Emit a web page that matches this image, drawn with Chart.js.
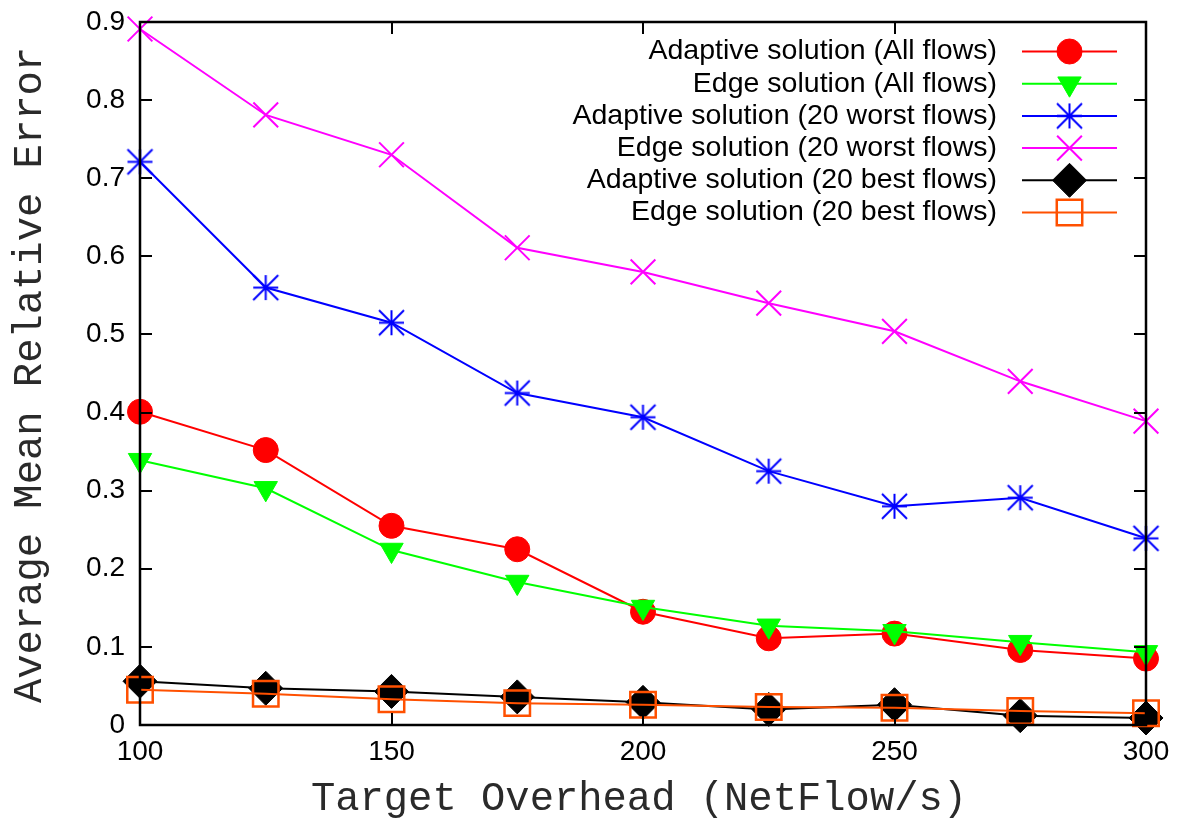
<!DOCTYPE html>
<html><head><meta charset="utf-8">
<script src="https://cdn.jsdelivr.net/npm/chart.js@4/dist/chart.umd.min.js"></script>
<style>html,body{margin:0;padding:0;background:#fff;}</style>
</head><body>
<canvas id="c" width="1181" height="819" style="display:block;width:1181px;height:819px"></canvas>
<script>
// ---- data ----
const overhead      = [100, 125, 150, 175, 200, 225, 250, 275, 300];
const adaptiveAll   = [0.401, 0.352, 0.255, 0.225, 0.145, 0.111, 0.117, 0.096, 0.085];
const edgeAll       = [0.339, 0.303, 0.224, 0.183, 0.151, 0.127, 0.120, 0.106, 0.093];
const adaptiveWorst = [0.721, 0.560, 0.515, 0.425, 0.394, 0.325, 0.280, 0.291, 0.239];
const edgeWorst     = [0.891, 0.781, 0.730, 0.611, 0.580, 0.540, 0.504, 0.440, 0.389];
const adaptiveBest  = [0.056, 0.047, 0.043, 0.036, 0.029, 0.020, 0.026, 0.012, 0.009];
const edgeBest      = [0.045, 0.040, 0.033, 0.028, 0.026, 0.023, 0.022, 0.018, 0.015];
const seriesNames = [
  "Adaptive solution (All flows)",
  "Edge solution (All flows)",
  "Adaptive solution (20 worst flows)",
  "Edge solution (20 worst flows)",
  "Adaptive solution (20 best flows)",
  "Edge solution (20 best flows)"
];
const xTickValues = [100, 150, 200, 250, 300];
const xTickLabels = ["100", "150", "200", "250", "300"];
const yTickValues = [0, 0.1, 0.2, 0.3, 0.4, 0.5, 0.6, 0.7, 0.8, 0.9];
const yTickLabels = ["0", "0.1", "0.2", "0.3", "0.4", "0.5", "0.6", "0.7", "0.8", "0.9"];
const xTitle = "Target Overhead (NetFlow/s)";
const yTitle = "Average Mean Relative Error";

// gnuplot-like asterisk marker (+ and x inside the same square)
function makeAsterisk(color, h, lw) {
  const s = Math.ceil(2 * h + lw + 2);
  const cv = document.createElement('canvas');
  cv.width = s; cv.height = s;
  const c = cv.getContext('2d');
  const m = s / 2;
  c.strokeStyle = color; c.lineWidth = lw;
  c.beginPath();
  c.moveTo(m - h, m); c.lineTo(m + h, m);
  c.moveTo(m, m - h); c.lineTo(m, m + h);
  c.moveTo(m - h, m - h); c.lineTo(m + h, m + h);
  c.moveTo(m - h, m + h); c.lineTo(m + h, m - h);
  c.stroke();
  return cv;
}

// ---- styles ----
const seriesValues = [adaptiveAll, edgeAll, adaptiveWorst, edgeWorst, adaptiveBest, edgeBest];
const styles = [
  {color:'#ff0000', pointStyle:'circle',   radius:12.5, rotation:0,   fill:'#ff0000', bw:1},
  {color:'#00ff00', pointStyle:'triangle', radius:13.5, rotation:180, fill:'#00ff00', bw:1},
  {color:'#0000ff', pointStyle:makeAsterisk('#0000ff', 12.5, 2), radius:13, rotation:0, fill:'rgba(0,0,0,0)', bw:2},
  {color:'#ff00ff', pointStyle:'crossRot', radius:17.5, rotation:0,   fill:'rgba(0,0,0,0)', bw:2},
  {color:'#000000', pointStyle:'rectRot',  radius:17,   rotation:0,   fill:'#000000', bw:1},
  {color:'#ff5000', pointStyle:'rect',     radius:18,   rotation:0,   fill:'rgba(0,0,0,0)', bw:2.5}
];

const datasets = seriesValues.map((vals, i) => ({
  label: seriesNames[i],
  data: overhead.map((x, j) => ({x: x, y: vals[j]})),
  borderColor: styles[i].color,
  backgroundColor: styles[i].fill,
  pointBackgroundColor: styles[i].fill,
  pointBorderColor: styles[i].color,
  pointBorderWidth: styles[i].bw,
  pointStyle: styles[i].pointStyle,
  pointRadius: styles[i].radius,
  pointRotation: styles[i].rotation,
  pointHoverRadius: styles[i].radius,
  borderWidth: 2,
  tension: 0,
  fill: false,
  clip: false,
  order: seriesValues.length - 1 - i
}));

const L = 140, R = 1146, T = 22, B = 725;

const decor = {
  id: 'decor',
  afterDatasetsDraw(chart) {
    const ctx = chart.ctx, a = chart.chartArea;
    const xs = chart.scales.x, ys = chart.scales.y;
    ctx.save();
    ctx.strokeStyle = '#000';
    ctx.lineWidth = 2.5;
    ctx.lineCap = 'butt';
    ctx.strokeRect(a.left, a.top, a.right - a.left, a.bottom - a.top);
    ctx.lineWidth = 2;
    const tl = 12;
    ctx.beginPath();
    yTickValues.forEach(v => {
      const y = Math.round(ys.getPixelForValue(v));
      ctx.moveTo(a.left, y); ctx.lineTo(a.left + tl, y);
      ctx.moveTo(a.right, y); ctx.lineTo(a.right - tl, y);
    });
    xTickValues.forEach(v => {
      const x = Math.round(xs.getPixelForValue(v));
      ctx.moveTo(x, a.bottom); ctx.lineTo(x, a.bottom - tl);
      ctx.moveTo(x, a.top); ctx.lineTo(x, a.top + tl);
    });
    ctx.stroke();
    // tick labels
    ctx.fillStyle = '#000';
    ctx.font = '28px "Liberation Sans", Arial, sans-serif';
    ctx.textAlign = 'right'; ctx.textBaseline = 'middle';
    yTickValues.forEach((v, i) => ctx.fillText(yTickLabels[i], a.left - 15, ys.getPixelForValue(v)));
    ctx.textAlign = 'center'; ctx.textBaseline = 'middle';
    xTickValues.forEach((v, i) => ctx.fillText(xTickLabels[i], xs.getPixelForValue(v), a.bottom + 27));
    // axis titles
    ctx.fillStyle = '#2a2a2a';
    ctx.font = '40.5px "Liberation Mono", "Courier New", monospace';
    ctx.textAlign = 'center'; ctx.textBaseline = 'middle';
    ctx.fillText(xTitle, 639, 799);
    ctx.save();
    ctx.translate(30, 375);
    ctx.rotate(-Math.PI / 2);
    ctx.fillText(yTitle, 0, 0);
    ctx.restore();
    // legend
    const textRight = 997, lx1 = 1022, lx2 = 1117, lxm = (lx1 + lx2) / 2;
    const rowY0 = 51.5, rowGap = 32.2;
    ctx.font = '28.5px "Liberation Sans", Arial, sans-serif';
    ctx.textAlign = 'right'; ctx.textBaseline = 'middle';
    seriesNames.forEach((name, i) => {
      const y = rowY0 + i * rowGap;
      ctx.fillStyle = '#000';
      ctx.fillText(name, textRight, y);
      ctx.strokeStyle = styles[i].color;
      ctx.lineWidth = 2;
      ctx.beginPath(); ctx.moveTo(lx1, y); ctx.lineTo(lx2, y); ctx.stroke();
      ctx.fillStyle = styles[i].fill;
      ctx.strokeStyle = styles[i].color;
      ctx.lineWidth = styles[i].bw;
      Chart.helpers.drawPoint(ctx, {pointStyle: styles[i].pointStyle, radius: styles[i].radius,
        rotation: styles[i].rotation, borderWidth: styles[i].bw}, lxm, y);
    });
    ctx.restore();
  }
};

new Chart(document.getElementById('c'), {
  type: 'line',
  data: {datasets},
  options: {
    responsive: false,
    animation: false,
    devicePixelRatio: 1,
    layout: {autoPadding: false, padding: {left: 0, top: T, right: 1181 - R, bottom: 0}},
    plugins: {legend: {display: false}, tooltip: {enabled: false}},
    events: [],
    scales: {
      x: {
        type: 'linear', min: 100, max: 300,
        afterFit(s) { s.height = 819 - B; },
        ticks: {display: false, stepSize: 50},
        grid: {display: false}, border: {display: false}
      },
      y: {
        type: 'linear', min: 0, max: 0.9,
        afterFit(s) { s.width = L; },
        ticks: {display: false, stepSize: 0.1},
        grid: {display: false}, border: {display: false}
      }
    }
  },
  plugins: [decor]
});
</script>
</body></html>
